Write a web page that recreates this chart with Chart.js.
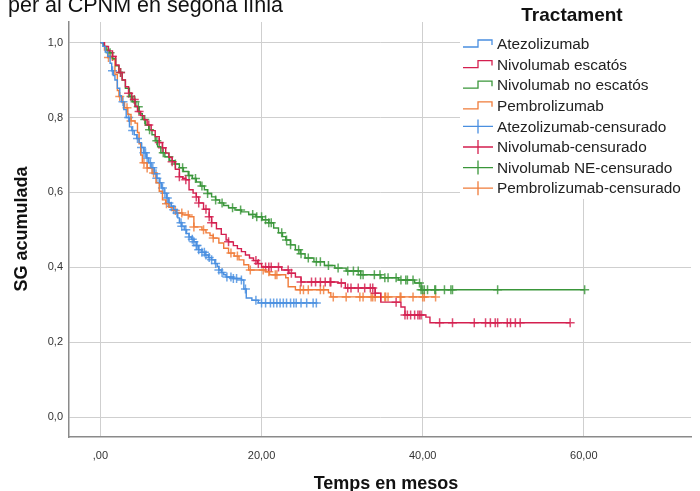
<!DOCTYPE html>
<html>
<head>
<meta charset="utf-8">
<script src="https://cdn.jsdelivr.net/npm/chart.js@4.4.1/dist/chart.umd.min.js"></script>
<style>
  html, body { margin: 0; padding: 0; background: #fff; }
  #wrap { width: 700px; height: 491px; }
</style>
</head>
<body>
<div id="wrap"><canvas id="km" width="700" height="491"></canvas></div>
<script>
// Kaplan-Meier curves: event times (months) and survival after each step
const atezoTime = [0, 0.3, 0.6, 0.9, 1.2, 1.4, 1.6, 1.8, 2.1, 2.4, 2.6, 2.9, 3.2, 3.6, 3.9, 4.2, 4.5, 4.8, 5.1, 5.4, 5.7, 6.0, 6.3, 6.7, 7.0, 7.3, 7.6, 7.9, 8.2, 8.5, 8.8, 9.1, 9.4, 9.6, 9.8, 10.1, 10.4, 10.7, 11.0, 11.3, 11.6, 11.9, 12.2, 12.6, 13.0, 13.4, 13.8, 14.2, 14.5, 14.7, 15.0, 15.3, 15.6, 16.5, 17.5, 17.8, 18.1, 18.8, 19.6, 26.8];
const atezoSurv = [1.0, 0.99, 0.975, 0.963, 0.945, 0.925, 0.912, 0.9, 0.878, 0.858, 0.842, 0.821, 0.8, 0.775, 0.765, 0.754, 0.744, 0.733, 0.72, 0.706, 0.692, 0.679, 0.666, 0.65, 0.638, 0.626, 0.612, 0.598, 0.585, 0.572, 0.563, 0.554, 0.545, 0.532, 0.519, 0.51, 0.5, 0.49, 0.481, 0.475, 0.468, 0.458, 0.447, 0.44, 0.433, 0.426, 0.42, 0.41, 0.402, 0.393, 0.386, 0.38, 0.374, 0.37, 0.366, 0.342, 0.318, 0.312, 0.305, 0.305];
const atezoCens = [1.5, 2.8, 3.5, 4.0, 4.6, 5.1, 5.4, 5.6, 5.8, 6.2, 6.5, 6.9, 7.0, 7.4, 7.7, 8.0, 8.3, 8.5, 8.8, 9.1, 9.5, 10.0, 10.1, 10.6, 11.0, 11.4, 11.6, 11.9, 12.0, 12.2, 12.6, 12.9, 13.1, 13.5, 13.8, 14.3, 14.7, 15.1, 15.7, 16.2, 16.5, 16.9, 17.5, 18.0, 19.3, 20.0, 20.5, 21.1, 21.5, 21.9, 22.3, 22.7, 23.1, 23.6, 24.0, 24.3, 24.9, 25.6, 26.4, 26.8];

const nivoEscTime = [0, 0.5, 1.0, 1.5, 1.9, 2.3, 2.7, 3.1, 3.5, 3.9, 4.3, 4.6, 5.0, 5.4, 5.8, 6.3, 6.8, 7.3, 7.7, 8.1, 8.5, 8.9, 9.3, 9.8, 10.2, 10.6, 11.0, 11.5, 11.9, 12.2, 12.8, 13.5, 13.8, 14.4, 15.0, 15.6, 15.9, 16.5, 17.0, 17.5, 18.0, 18.5, 19.0, 19.5, 20.0, 22.5, 23.4, 24.2, 24.9, 29.5, 30.4, 34.1, 34.8, 37.3, 37.8, 40.4, 40.9, 58.3];
const nivoEscSurv = [1.0, 0.99, 0.978, 0.963, 0.94, 0.92, 0.9, 0.882, 0.865, 0.848, 0.83, 0.816, 0.805, 0.794, 0.78, 0.765, 0.749, 0.733, 0.719, 0.705, 0.694, 0.682, 0.662, 0.642, 0.638, 0.634, 0.607, 0.598, 0.588, 0.572, 0.555, 0.535, 0.519, 0.503, 0.488, 0.473, 0.468, 0.458, 0.45, 0.442, 0.433, 0.425, 0.418, 0.41, 0.401, 0.393, 0.384, 0.374, 0.361, 0.358, 0.345, 0.331, 0.307, 0.294, 0.273, 0.267, 0.252, 0.252];
const nivoEscCens = [1.5, 2.5, 3.5, 4.2, 4.8, 6.0, 7.3, 7.7, 8.9, 9.8, 10.6, 11.9, 12.2, 13.1, 13.5, 13.8, 15.9, 19.3, 19.6, 20.5, 20.9, 21.2, 22.1, 23.3, 23.7, 24.9, 26.2, 26.7, 27.3, 27.9, 28.5, 28.6, 29.9, 30.7, 31.1, 32.0, 32.8, 33.5, 33.8, 34.1, 36.7, 37.8, 38.1, 38.5, 39.0, 39.4, 39.6, 39.8, 42.1, 43.7, 46.4, 47.8, 48.4, 49.0, 49.3, 50.5, 50.9, 51.5, 52.1, 58.3];

const nivoNoEscTime = [0, 0.4, 0.8, 1.1, 1.5, 1.9, 2.3, 2.7, 3.1, 3.6, 4.0, 4.4, 4.8, 5.2, 5.6, 6.0, 6.4, 6.8, 7.1, 7.5, 8.0, 8.6, 9.2, 9.8, 10.3, 10.9, 11.4, 11.9, 12.4, 12.9, 13.3, 13.8, 14.3, 14.8, 15.3, 15.9, 16.7, 17.5, 18.4, 19.3, 20.1, 20.9, 21.5, 22.1, 22.6, 23.0, 23.6, 24.2, 24.8, 25.4, 26.5, 27.8, 29.1, 30.5, 32.3, 34.8, 37.0, 39.0, 39.8, 60.1];
const nivoNoEscSurv = [1.0, 0.99, 0.98, 0.973, 0.957, 0.938, 0.92, 0.9, 0.878, 0.856, 0.842, 0.829, 0.81, 0.795, 0.78, 0.767, 0.754, 0.738, 0.722, 0.706, 0.695, 0.685, 0.676, 0.666, 0.656, 0.645, 0.637, 0.628, 0.617, 0.607, 0.597, 0.588, 0.58, 0.572, 0.565, 0.559, 0.553, 0.548, 0.541, 0.535, 0.527, 0.519, 0.505, 0.492, 0.482, 0.473, 0.46, 0.447, 0.436, 0.425, 0.415, 0.405, 0.398, 0.39, 0.38, 0.372, 0.366, 0.358, 0.34, 0.34];
const nivoNoEscCens = [1.2, 2.5, 3.8, 4.3, 4.7, 5.5, 6.1, 7.0, 7.8, 8.5, 9.3, 10.2, 11.0, 11.8, 12.6, 13.3, 14.3, 15.1, 16.4, 17.4, 18.9, 19.4, 20.0, 20.5, 20.9, 21.2, 22.5, 23.1, 23.6, 24.6, 24.9, 25.8, 26.8, 27.3, 28.3, 29.5, 30.7, 31.4, 32.0, 32.3, 32.6, 34.0, 34.7, 35.3, 35.7, 36.7, 37.3, 37.9, 38.1, 38.8, 39.6, 39.8, 40.0, 40.2, 40.6, 41.5, 41.6, 42.7, 43.5, 43.7, 49.3, 60.1];

const pembroTime = [0, 0.5, 0.9, 1.5, 1.8, 2.1, 2.3, 2.7, 3.0, 3.4, 3.8, 4.3, 4.6, 4.8, 5.0, 5.2, 5.8, 6.4, 6.9, 7.3, 7.7, 8.1, 8.5, 9.0, 9.4, 10.2, 11.0, 11.6, 12.6, 13.1, 13.6, 14.0, 14.7, 15.3, 15.9, 16.6, 17.2, 17.8, 18.4, 20.5, 21.0, 23.0, 23.3, 24.2, 28.3, 28.6, 41.6];
const pembroSurv = [1.0, 0.98, 0.96, 0.955, 0.915, 0.872, 0.856, 0.84, 0.826, 0.808, 0.791, 0.785, 0.76, 0.73, 0.7, 0.679, 0.665, 0.652, 0.626, 0.603, 0.58, 0.57, 0.56, 0.552, 0.545, 0.54, 0.535, 0.508, 0.5, 0.492, 0.485, 0.478, 0.465, 0.451, 0.438, 0.43, 0.42, 0.407, 0.393, 0.388, 0.38, 0.372, 0.348, 0.34, 0.332, 0.321, 0.321];
const pembroCens = [1.0, 2.4, 3.3, 3.8, 5.4, 5.8, 6.6, 8.2, 9.3, 10.1, 10.9, 11.6, 12.8, 14.0, 16.2, 17.0, 18.6, 20.2, 20.9, 21.7, 21.9, 24.8, 25.2, 25.8, 27.3, 27.7, 28.9, 30.5, 32.2, 32.6, 33.6, 33.8, 34.1, 34.8, 35.3, 35.4, 35.7, 37.2, 37.3, 38.8, 40.0, 40.2, 41.6];

const groupNames = ['Atezolizumab', 'Nivolumab escatós', 'Nivolumab no escatós', 'Pembrolizumab'];
const censorNames = ['Atezolizumab-censurado', 'Nivolumab-censurado', 'Nivolumab NE-censurado', 'Pembrolizumab-censurado'];
const groupColors = ['#4a8fe0', '#d41f4f', '#3a963a', '#f07c3a'];

const xTicks = [0, 20, 40, 60];
const yTicks = [0, 0.2, 0.4, 0.6, 0.8, 1.0];

const titleText = 'per al CPNM en segona línia';
const legendTitle = 'Tractament';
const xTitle = 'Temps en mesos';
const yTitle = 'SG acumulada';

const FONT = 'Arial, "Liberation Sans", sans-serif';

// survival value of a step curve at time t (used to place the censor ticks on the curve)
function survAt(times, surv, t) {
  let s = surv[0];
  for (let i = 0; i < times.length; i++) {
    if (times[i] <= t) s = surv[i];
  }
  return s;
}

const curves = [
  [atezoTime, atezoSurv, atezoCens],
  [nivoEscTime, nivoEscSurv, nivoEscCens],
  [nivoNoEscTime, nivoNoEscSurv, nivoNoEscCens],
  [pembroTime, pembroSurv, pembroCens]
];

const datasets = [];
curves.forEach(([times, surv], i) => {
  datasets.push({
    label: groupNames[i],
    data: times.map((t, k) => ({ x: t, y: surv[k] })),
    borderColor: groupColors[i],
    borderWidth: 1.4,
    stepped: 'before',
    pointRadius: 0,
    fill: false
  });
});
curves.forEach(([times, surv, cens], i) => {
  datasets.push({
    label: censorNames[i],
    data: cens.map(t => ({ x: t, y: survAt(times, surv, t) })),
    showLine: false,
    pointStyle: 'cross',
    pointRadius: 4.5,
    borderWidth: 1.5,
    borderColor: groupColors[i] + 'd0',
    backgroundColor: groupColors[i]
  });
});

const overlay = {
  id: 'overlay',
  beforeDraw(chart) {
    const ctx = chart.ctx;
    ctx.save();
    ctx.fillStyle = '#fff';
    ctx.fillRect(0, 0, chart.width, chart.height);
    ctx.restore();
  },
  afterDraw(chart) {
    const ctx = chart.ctx;
    const area = chart.chartArea;
    ctx.save();

    // cropped chart title
    ctx.fillStyle = '#111';
    ctx.font = '21.5px ' + FONT;
    ctx.textAlign = 'left';
    ctx.textBaseline = 'alphabetic';
    ctx.fillText(titleText, 8, 12);

    // axis titles
    ctx.font = 'bold 18px ' + FONT;
    ctx.textAlign = 'center';
    ctx.textBaseline = 'middle';
    ctx.fillText(xTitle, (area.left + area.right) / 2 + 6, 484);
    ctx.save();
    ctx.translate(22, 229);
    ctx.rotate(-Math.PI / 2);
    ctx.fillText(yTitle, 0, 0);
    ctx.restore();

    // legend box
    ctx.fillStyle = '#fff';
    ctx.fillRect(460, 0, 240, 199);
    ctx.fillStyle = '#111';
    ctx.font = 'bold 19px ' + FONT;
    ctx.textAlign = 'center';
    ctx.fillText(legendTitle, 572, 16);

    const labels = groupNames.concat(censorNames);
    ctx.font = '15.4px ' + FONT;
    ctx.textAlign = 'left';
    labels.forEach((lab, i) => {
      const cy = 44 + i * 20.6;
      const col = groupColors[i % 4];
      ctx.strokeStyle = col;
      ctx.lineWidth = 1.3;
      ctx.beginPath();
      if (i < 4) {
        ctx.moveTo(463, cy + 3);
        ctx.lineTo(478, cy + 3);
        ctx.lineTo(478, cy - 4);
        ctx.lineTo(492, cy - 4);
        ctx.lineTo(492, cy + 1);
      } else {
        ctx.moveTo(463, cy);
        ctx.lineTo(493, cy);
        ctx.moveTo(478, cy - 7);
        ctx.lineTo(478, cy + 7);
      }
      ctx.stroke();
      ctx.fillStyle = '#222';
      ctx.fillText(lab, 497, cy + 1);
    });
    ctx.restore();
  }
};

new Chart(document.getElementById('km'), {
  type: 'line',
  data: { datasets: datasets },
  plugins: [overlay],
  options: {
    responsive: false,
    animation: false,
    layout: { padding: { top: 22, right: 9, left: 0, bottom: 0 } },
    plugins: {
      legend: { display: false },
      tooltip: { enabled: false }
    },
    scales: {
      x: {
        type: 'linear',
        min: -3.9,
        max: 73.3,
        afterFit(scale) { scale.height = 54; },
        afterBuildTicks(scale) { scale.ticks = xTicks.map(v => ({ value: v })); },
        grid: { color: '#cfcfcf', lineWidth: 1, drawTicks: false },
        border: { color: '#8a8a8a', width: 1.5 },
        ticks: {
          padding: 12,
          color: '#333',
          font: { family: FONT, size: 11 },
          callback: v => v === 0 ? ',00' : v.toFixed(2).replace('.', ',')
        }
      },
      y: {
        type: 'linear',
        min: -0.053,
        max: 1.055,
        afterFit(scale) { scale.width = 69; },
        afterBuildTicks(scale) { scale.ticks = yTicks.map(v => ({ value: v })); },
        grid: { color: '#cfcfcf', lineWidth: 1, drawTicks: false },
        border: { color: '#8a8a8a', width: 1.5 },
        ticks: {
          padding: 6,
          color: '#333',
          font: { family: FONT, size: 11 },
          callback: v => v.toFixed(1).replace('.', ',')
        }
      }
    }
  }
});
</script>
</body>
</html>
